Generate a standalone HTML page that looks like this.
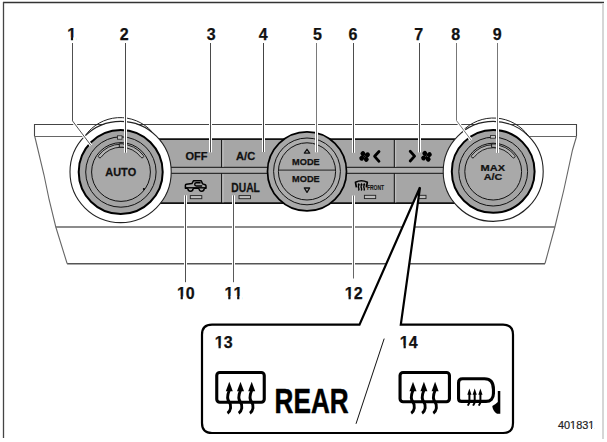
<!DOCTYPE html>
<html><head><meta charset="utf-8">
<style>
html,body{margin:0;padding:0;background:#fff;width:607px;height:442px;overflow:hidden}
svg{display:block}
text{font-family:"Liberation Sans",sans-serif;font-kerning:none}
</style></head><body>
<svg width="607" height="442" viewBox="0 0 607 442">

<line x1="3" y1="2.5" x2="604" y2="2.5" stroke="#333" stroke-width="1.5"/>
<line x1="3.5" y1="2" x2="3.5" y2="438" stroke="#444" stroke-width="1.3"/>
<line x1="603" y1="3.5" x2="603" y2="439" stroke="#d6d6d6" stroke-width="2"/>

<g fill="none" stroke="#444" stroke-width="1.1">
<polyline points="34.5,136.5 34.5,124.5 576.5,124.5 576.5,136.5"/>
</g>
<g fill="none" stroke="#666" stroke-width="1.1">
<line x1="34.5" y1="136.5" x2="90" y2="136.5"/>
<line x1="525" y1="136.5" x2="576.5" y2="136.5"/>
<polyline points="34.8,136.5 44,175 49.2,200 55.8,227 67.1,263.5"/>
<polyline points="576.5,136.5 572.5,150 563.8,190 554.9,227 545,263.5"/>
<line x1="55.8" y1="227" x2="554.9" y2="227" stroke-width="1.3"/>
<line x1="67.1" y1="263.8" x2="545" y2="263.8" stroke="#555" stroke-width="1.4"/>
</g>

<rect x="130" y="139.2" width="340" height="64" fill="#a6a6a6"/>
<rect x="130" y="167.3" width="340" height="6" fill="#aeaeae"/>
<g stroke="#111" fill="none">
<line x1="130" y1="139.2" x2="470" y2="139.2" stroke-width="1.8"/>
<line x1="130" y1="203.2" x2="470" y2="203.2" stroke-width="1.8"/>
<line x1="130" y1="167.3" x2="470" y2="167.3" stroke-width="1"/>
<line x1="130" y1="173.3" x2="470" y2="173.3" stroke-width="1"/>
<line x1="221.6" y1="139.5" x2="221.6" y2="167.3" stroke-width="1"/>
<line x1="221.6" y1="173.3" x2="221.6" y2="203" stroke-width="1"/>
<line x1="394.3" y1="139.5" x2="394.3" y2="167.3" stroke-width="1"/>
<line x1="394.3" y1="173.3" x2="394.3" y2="203" stroke-width="1"/>
</g>
<g stroke="#c4c4c4" stroke-width="1">
<line x1="223" y1="140" x2="223" y2="167" />
<line x1="223" y1="174" x2="223" y2="202.5" />
<line x1="395.7" y1="140" x2="395.7" y2="167" />
<line x1="395.7" y1="174" x2="395.7" y2="202.5" />
</g>

<g>
<circle cx="120.6" cy="172" r="50.6" fill="#fff" stroke="#222" stroke-width="1.1"/>
<path d="M85,136 A42.79,42.79 0 0 1 152,131.8" fill="none" stroke="#222" stroke-width="1"/>
<circle cx="120.7" cy="172" r="42" fill="#a4a4a4" stroke="#000" stroke-width="2"/>
<circle cx="120.9" cy="172" r="35.2" fill="none" stroke="#111" stroke-width="1"/>
<circle cx="121" cy="172" r="29.4" fill="#a9a9a9" stroke="#111" stroke-width="1"/>
<rect x="117.5" y="135.8" width="4.5" height="3.4" fill="#c8c8c8" stroke="#222" stroke-width="0.8"/>
<path d="M98.65,155.46 A27.8,27.8 0 0 1 143.35,155.46 A1.5,1.5 0 0 1 140.94,157.25 A24.8,24.8 0 0 0 101.06,157.25 A1.5,1.5 0 0 1 98.65,155.46 Z" fill="#b2b2b2" stroke="#111" stroke-width="0.9"/>
<circle cx="143.9" cy="189" r="1.1" fill="#000"/>
<path d="M123.5,143.8 L119.3,143.8 L119.3,147.2 L123.5,147.2" fill="#a9a9a9" stroke="#111" stroke-width="0.9"/>
</g>
<g>
<circle cx="493.2" cy="171.4" r="50" fill="#fff" stroke="#222" stroke-width="1.1"/>
<path d="M462,131.5 A43.24,43.24 0 0 1 528.5,136" fill="none" stroke="#222" stroke-width="1"/>
<circle cx="493.2" cy="171.4" r="41.4" fill="#a4a4a4" stroke="#000" stroke-width="2"/>
<circle cx="493.2" cy="171.6" r="34.4" fill="none" stroke="#111" stroke-width="1"/>
<circle cx="493.2" cy="171.6" r="28.4" fill="#a9a9a9" stroke="#111" stroke-width="1"/>
<rect x="490.4" y="135.6" width="5" height="2.6" fill="#c8c8c8" stroke="#222" stroke-width="0.8"/>
<path d="M471.58,155.60 A26.9,26.9 0 0 1 514.82,155.60 A1.5,1.5 0 0 1 512.41,157.38 A23.9,23.9 0 0 0 473.99,157.38 A1.5,1.5 0 0 1 471.58,155.60 Z" fill="#b2b2b2" stroke="#111" stroke-width="0.9"/>
<path d="M495.8,144 L491.6,144 L491.6,147.4 L495.8,147.4" fill="#a9a9a9" stroke="#111" stroke-width="0.9"/>
</g>
<g>
<circle cx="307" cy="171.4" r="39.5" fill="#a8a8a8" stroke="#000" stroke-width="1.7"/>
<circle cx="307" cy="171.4" r="33.4" fill="#adadad" stroke="#111" stroke-width="1"/>
<circle cx="307" cy="171.4" r="28.6" fill="#a9a9a9" stroke="#111" stroke-width="1"/>
<line x1="278.4" y1="170.1" x2="335.6" y2="170.1" stroke="#222" stroke-width="1"/>
<path d="M304.3,153.1 L307,149.3 L309.7,153.1 Z" fill="none" stroke="#111" stroke-width="1.3" stroke-linejoin="round"/>
<path d="M304.3,188 L307,192.4 L309.7,188 Z" fill="none" stroke="#111" stroke-width="1.3" stroke-linejoin="round"/>
</g>

<g transform="translate(364.6,156.5) scale(1.0)" fill="#000"><ellipse cx="3.3" cy="0.3" rx="2.5" ry="2.4" transform="rotate(-36)"/><ellipse cx="3.3" cy="0.3" rx="2.5" ry="2.4" transform="rotate(54)"/><ellipse cx="3.3" cy="0.3" rx="2.5" ry="2.4" transform="rotate(144)"/><ellipse cx="3.3" cy="0.3" rx="2.5" ry="2.4" transform="rotate(234)"/><path d="M-1.2,-1.2 L1.2,1.2 M-1.2,1.2 L1.2,-1.2" stroke="#000" stroke-width="1.2"/></g>
<polyline points="379,151.5 374.6,156.3 379,161.3" fill="none" stroke="#000" stroke-width="2.8" stroke-linecap="round" stroke-linejoin="round"/>
<polyline points="410.2,151.3 414.6,156.1 410.2,161" fill="none" stroke="#000" stroke-width="2.8" stroke-linecap="round" stroke-linejoin="round"/>
<g transform="translate(426.5,156.3) scale(1.0)" fill="#000"><ellipse cx="3.3" cy="0.3" rx="2.5" ry="2.4" transform="rotate(-36)"/><ellipse cx="3.3" cy="0.3" rx="2.5" ry="2.4" transform="rotate(54)"/><ellipse cx="3.3" cy="0.3" rx="2.5" ry="2.4" transform="rotate(144)"/><ellipse cx="3.3" cy="0.3" rx="2.5" ry="2.4" transform="rotate(234)"/><path d="M-1.2,-1.2 L1.2,1.2 M-1.2,1.2 L1.2,-1.2" stroke="#000" stroke-width="1.2"/></g>
<path d="M185.4,188.2 L185.4,185.3 Q185.4,184.5 186.4,184.3 L191.9,183.6 L193.6,180.7 L201.2,180.7 L202.6,183.9 L205.2,184.7 Q206,185 206,186 L206,188.2 Z" fill="none" stroke="#000" stroke-width="1.5" stroke-linejoin="round"/>
<rect x="185.4" y="187.2" width="20.6" height="1.8" fill="#000"/>
<path d="M187.9,188.6 A2.6,2.6 0 0 0 193.1,188.6 M199,188.6 A2.6,2.6 0 0 0 204.2,188.6" fill="#a6a6a6" stroke="#000" stroke-width="1.5"/>
<path d="M200.6,182.7 L196.3,182.7 Q194.7,182.7 194.7,184.35 Q194.7,186 196.3,186 L202.2,186" fill="none" stroke="#000" stroke-width="1.4"/>
<path d="M356.4,187.3 L355.5,182.3 Q361.4,179.2 367.3,182.3 L366.4,187.3" fill="none" stroke="#000" stroke-width="1.7" stroke-linejoin="round"/>
<path d="M358.8,182.8 L360.15000000000003,185.3 L357.45,185.3 Z" fill="#000"/><path d="M358.8,185 Q357.90000000000003,187 358.8,188.4 Q359.40000000000003,189.4 358.40000000000003,190.4" fill="none" stroke="#000" stroke-width="1.35"/>
<path d="M361.5,182.8 L362.85,185.3 L360.15,185.3 Z" fill="#000"/><path d="M361.5,185 Q360.6,187 361.5,188.4 Q362.1,189.4 361.1,190.4" fill="none" stroke="#000" stroke-width="1.35"/>
<path d="M364.2,182.8 L365.55,185.3 L362.84999999999997,185.3 Z" fill="#000"/><path d="M364.2,185 Q363.3,187 364.2,188.4 Q364.8,189.4 363.8,190.4" fill="none" stroke="#000" stroke-width="1.35"/>
<text x="0" y="0" font-size="6.6" font-weight="bold" fill="#151515" stroke="#151515" stroke-width="0.1" stroke-linejoin="round" transform="translate(366.92,189.72) scale(0.76,1)">FRONT</text>
<g fill="#bdbdbd" stroke="#222" stroke-width="0.9">
<rect x="190.3" y="195.6" width="11.5" height="3.1"/>
<rect x="239" y="195.6" width="11.5" height="3.1"/>
<rect x="364.4" y="195.3" width="11.3" height="3.3"/>
<rect x="417" y="195.3" width="9" height="3.3"/>
</g>

<text x="0" y="0" font-size="11" font-weight="bold" fill="#111" stroke="#111" stroke-width="0.25" stroke-linejoin="round" transform="translate(185.38,159.64)">OFF</text>
<text x="0" y="0" font-size="10.8" font-weight="bold" fill="#111" stroke="#111" stroke-width="0.25" stroke-linejoin="round" transform="translate(236.03,159.65) scale(1.03,1)">A/C</text>
<text x="0" y="0" font-size="12" font-weight="bold" fill="#111" stroke="#111" stroke-width="0.25" stroke-linejoin="round" transform="translate(231.23,191.62) scale(0.86,1)">DUAL</text>
<text x="0" y="0" font-size="9.2" font-weight="bold" fill="#111" stroke="#111" stroke-width="0.25" stroke-linejoin="round" transform="translate(292.12,164.52)">MODE</text>
<text x="0" y="0" font-size="9.2" font-weight="bold" fill="#111" stroke="#111" stroke-width="0.25" stroke-linejoin="round" transform="translate(292.12,182.17)">MODE</text>
<text x="0" y="0" font-size="11.5" font-weight="bold" fill="#111" stroke="#111" stroke-width="0.25" stroke-linejoin="round" transform="translate(105.27,176.41) scale(0.95,1)">AUTO</text>
<text x="0" y="0" font-size="9.6" font-weight="bold" fill="#111" stroke="#111" stroke-width="0.25" stroke-linejoin="round" transform="translate(480.61,170.80) scale(1.15,1)">MAX</text>
<text x="0" y="0" font-size="9.6" font-weight="bold" fill="#111" stroke="#111" stroke-width="0.25" stroke-linejoin="round" transform="translate(483.70,179.78) scale(1.12,1)">A/C</text>
<text x="0" y="0" font-size="16" font-weight="bold" fill="#111" stroke="#111" stroke-width="0.25" stroke-linejoin="round" transform="translate(67.14,39.75)" clip-path="url(#c1)">1</text>
<text x="0" y="0" font-size="16" font-weight="bold" fill="#111" stroke="#111" stroke-width="0.25" stroke-linejoin="round" transform="translate(119.84,39.84)">2</text>
<text x="0" y="0" font-size="16" font-weight="bold" fill="#111" stroke="#111" stroke-width="0.25" stroke-linejoin="round" transform="translate(206.76,39.65)">3</text>
<text x="0" y="0" font-size="16" font-weight="bold" fill="#111" stroke="#111" stroke-width="0.25" stroke-linejoin="round" transform="translate(258.67,39.55)">4</text>
<text x="0" y="0" font-size="16" font-weight="bold" fill="#111" stroke="#111" stroke-width="0.25" stroke-linejoin="round" transform="translate(312.88,39.53)">5</text>
<text x="0" y="0" font-size="16" font-weight="bold" fill="#111" stroke="#111" stroke-width="0.25" stroke-linejoin="round" transform="translate(348.50,39.61)">6</text>
<text x="0" y="0" font-size="16" font-weight="bold" fill="#111" stroke="#111" stroke-width="0.25" stroke-linejoin="round" transform="translate(414.26,39.60)">7</text>
<text x="0" y="0" font-size="16" font-weight="bold" fill="#111" stroke="#111" stroke-width="0.25" stroke-linejoin="round" transform="translate(451.34,39.61)">8</text>
<text x="0" y="0" font-size="16" font-weight="bold" fill="#111" stroke="#111" stroke-width="0.25" stroke-linejoin="round" transform="translate(492.87,39.56)">9</text>
<text x="0" y="0" font-size="16" font-weight="bold" fill="#111" stroke="#111" stroke-width="0.25" stroke-linejoin="round" transform="translate(176.88,298.51)" clip-path="url(#c2)">10</text>
<text x="0" y="0" font-size="16" font-weight="bold" fill="#111" stroke="#111" stroke-width="0.25" stroke-linejoin="round" transform="translate(224.54,298.50)" clip-path="url(#c3)">11</text>
<text x="0" y="0" font-size="16" font-weight="bold" fill="#111" stroke="#111" stroke-width="0.25" stroke-linejoin="round" transform="translate(344.82,298.59)" clip-path="url(#c4)">12</text>
<polyline points="72.5,43 72.5,120.9 91.1,145.6" fill="none" stroke="#fff" stroke-width="3"/><polyline points="72.5,43 72.5,120.9 91.1,145.6" fill="none" stroke="#505050" stroke-width="1"/>
<polyline points="125.5,43 125.5,152.7" fill="none" stroke="#fff" stroke-width="3"/><polyline points="125.5,43 125.5,152.7" fill="none" stroke="#4a4a4a" stroke-width="1"/>
<polyline points="210.5,43 210.5,152.4" fill="none" stroke="#fff" stroke-width="3"/><polyline points="210.5,43 210.5,152.4" fill="none" stroke="#4a4a4a" stroke-width="1"/>
<polyline points="263.5,43 263.5,152" fill="none" stroke="#fff" stroke-width="3"/><polyline points="263.5,43 263.5,152" fill="none" stroke="#444" stroke-width="1"/>
<polyline points="316.5,43 316.5,152.3" fill="none" stroke="#fff" stroke-width="3"/><polyline points="316.5,43 316.5,152.3" fill="none" stroke="#7a7a7a" stroke-width="1"/>
<polyline points="353.5,43 353.5,152.8" fill="none" stroke="#fff" stroke-width="3"/><polyline points="353.5,43 353.5,152.8" fill="none" stroke="#4d4d4d" stroke-width="1"/>
<polyline points="419.5,43 419.5,152.4" fill="none" stroke="#fff" stroke-width="3"/><polyline points="419.5,43 419.5,152.4" fill="none" stroke="#4d4d4d" stroke-width="1"/>
<polyline points="456.5,43 456.5,120.6 471.1,140.1" fill="none" stroke="#fff" stroke-width="3"/><polyline points="456.5,43 456.5,120.6 471.1,140.1" fill="none" stroke="#777" stroke-width="1"/>
<polyline points="497.5,43 497.5,152.9" fill="none" stroke="#fff" stroke-width="3"/><polyline points="497.5,43 497.5,152.9" fill="none" stroke="#777" stroke-width="1"/>
<polyline points="185.5,195.3 185.5,282.2" fill="none" stroke="#fff" stroke-width="3"/><polyline points="185.5,195.3 185.5,282.2" fill="none" stroke="#505050" stroke-width="1"/>
<polyline points="233.5,195.3 233.5,282.2" fill="none" stroke="#fff" stroke-width="3"/><polyline points="233.5,195.3 233.5,282.2" fill="none" stroke="#5a5a5a" stroke-width="1"/>
<polyline points="353.5,195.5 353.5,278.5" fill="none" stroke="#fff" stroke-width="3"/><polyline points="353.5,195.5 353.5,278.5" fill="none" stroke="#666" stroke-width="1"/>
<path d="M359.5,324.7 L212,324.7 Q202,324.7 202,334.7 L202,423 Q202,433 212,433 L503,433 Q513,433 513,423 L513,334.7 Q513,324.7 503,324.7 L400.8,324.7 L420,187.3 Z" fill="#fff" stroke="#000" stroke-width="2.2"/>
<line x1="384.2" y1="338.6" x2="356" y2="423.8" stroke="#111" stroke-width="1"/>
<text x="0" y="0" font-size="16" font-weight="bold" fill="#111" stroke="#111" stroke-width="0.25" stroke-linejoin="round" transform="translate(214.79,347.85)" clip-path="url(#c5)">13</text>
<text x="0" y="0" font-size="16" font-weight="bold" fill="#111" stroke="#111" stroke-width="0.25" stroke-linejoin="round" transform="translate(399.85,347.55)" clip-path="url(#c6)">14</text>
<text x="0" y="0" font-size="10.4" font-weight="normal" fill="#222" stroke="#222" stroke-width="0.2" stroke-linejoin="round" transform="translate(557.94,429.28) scale(1.05,1)" clip-path="url(#c7)">401831</text>
<text x="0" y="0" font-size="35.8" font-weight="bold" fill="#000" stroke="#000" stroke-width="0.5" stroke-linejoin="round" transform="translate(274.62,412.86) scale(0.73,1)">REAR</text>
<rect x="216.75" y="372.55" width="47.5" height="29.699999999999996" rx="3" fill="none" stroke="#000" stroke-width="3.1"/><path d="M229.3,381.8 L232.8,391.3 L225.8,391.3 Z" fill="#000"/><path d="M229.3,390.3 C226.8,396.3 226.8,399.3 229.3,402.3 C231.8,405.3 230.8,411.2 227.5,413.2" fill="none" stroke="#000" stroke-width="2.9"/><path d="M240.5,381.8 L244.0,391.3 L237.0,391.3 Z" fill="#000"/><path d="M240.5,390.3 C238.0,396.3 238.0,399.3 240.5,402.3 C243.0,405.3 242.0,411.2 238.7,413.2" fill="none" stroke="#000" stroke-width="2.9"/><path d="M251.7,381.8 L255.2,391.3 L248.2,391.3 Z" fill="#000"/><path d="M251.7,390.3 C249.2,396.3 249.2,399.3 251.7,402.3 C254.2,405.3 253.2,411.2 249.89999999999998,413.2" fill="none" stroke="#000" stroke-width="2.9"/>
<rect x="400.05" y="372.55" width="49.4" height="29.199999999999996" rx="3" fill="none" stroke="#000" stroke-width="3.1"/><path d="M413,381.8 L416.5,391.3 L409.5,391.3 Z" fill="#000"/><path d="M413,390.3 C410.5,396.3 410.5,399.3 413,402.3 C415.5,405.3 414.5,411.2 411.2,413.2" fill="none" stroke="#000" stroke-width="2.9"/><path d="M423.9,381.8 L427.4,391.3 L420.4,391.3 Z" fill="#000"/><path d="M423.9,390.3 C421.4,396.3 421.4,399.3 423.9,402.3 C426.4,405.3 425.4,411.2 422.09999999999997,413.2" fill="none" stroke="#000" stroke-width="2.9"/><path d="M435.1,381.8 L438.6,391.3 L431.6,391.3 Z" fill="#000"/><path d="M435.1,390.3 C432.6,396.3 432.6,399.3 435.1,402.3 C437.6,405.3 436.6,411.2 433.3,413.2" fill="none" stroke="#000" stroke-width="2.9"/>
<path d="M462.5,378.75 L484.5,378.75 C490.5,378.75 493.45,383 493.45,389.5 L493.45,393.5 C493.45,398.5 490.5,401.35 486,401.35 L461.5,401.35 Q458.55,401.35 458.55,398.4 L458.55,382.7 Q458.55,378.75 462.5,378.75 Z" fill="none" stroke="#000" stroke-width="3.1"/>
<path d="M469.4,388.6 L471.5,394.8 L467.29999999999995,394.8 Z" fill="#000"/><path d="M469.4,394 L469.4,402.6 L467.79999999999995,405.6" fill="none" stroke="#000" stroke-width="2"/>
<path d="M474.7,388.6 L476.8,394.8 L472.59999999999997,394.8 Z" fill="#000"/><path d="M474.7,394 L474.7,402.6 L473.09999999999997,405.6" fill="none" stroke="#000" stroke-width="2"/>
<path d="M480.4,388.6 L482.5,394.8 L478.29999999999995,394.8 Z" fill="#000"/><path d="M480.4,394 L480.4,402.6 L478.79999999999995,405.6" fill="none" stroke="#000" stroke-width="2"/>
<path d="M500.3,390.9 L500.3,413.8 L497,413.8 Q492.5,410.5 492.3,405.9 Q495.5,404.3 497.8,401.9 L497.8,390.9 Z" fill="#000"/>
<defs><clipPath id="c1"><path d="M-10,-32 H28.90 V32 H-10 Z M-0.55,-2.13 H3.73 V2.0 H-0.55 Z M5.93,-2.13 H9.31 V2.0 H5.93 Z" clip-rule="evenodd"/></clipPath><clipPath id="c2"><path d="M-10,-32 H37.80 V32 H-10 Z M-0.55,-2.13 H3.73 V2.0 H-0.55 Z M5.93,-2.13 H9.31 V2.0 H5.93 Z" clip-rule="evenodd"/></clipPath><clipPath id="c3"><path d="M-10,-32 H37.80 V32 H-10 Z M-0.55,-2.13 H3.73 V2.0 H-0.55 Z M5.93,-2.13 H12.63 V2.0 H5.93 Z M14.83,-2.13 H18.21 V2.0 H14.83 Z" clip-rule="evenodd"/></clipPath><clipPath id="c4"><path d="M-10,-32 H37.80 V32 H-10 Z M-0.55,-2.13 H3.73 V2.0 H-0.55 Z M5.93,-2.13 H9.31 V2.0 H5.93 Z" clip-rule="evenodd"/></clipPath><clipPath id="c5"><path d="M-10,-32 H37.80 V32 H-10 Z M-0.55,-2.13 H3.73 V2.0 H-0.55 Z M5.93,-2.13 H9.31 V2.0 H5.93 Z" clip-rule="evenodd"/></clipPath><clipPath id="c6"><path d="M-10,-32 H37.80 V32 H-10 Z M-0.55,-2.13 H3.73 V2.0 H-0.55 Z M5.93,-2.13 H9.31 V2.0 H5.93 Z" clip-rule="evenodd"/></clipPath><clipPath id="c7"><path d="M-10,-20.8 H54.70 V20.8 H-10 Z M11.34,-1.28 H14.18 V2.0 H11.34 Z M15.10,-1.28 H17.40 V2.0 H15.10 Z M28.70,-1.28 H31.54 V2.0 H28.70 Z M32.45,-1.28 H34.75 V2.0 H32.45 Z" clip-rule="evenodd"/></clipPath></defs>
</svg>
</body></html>
